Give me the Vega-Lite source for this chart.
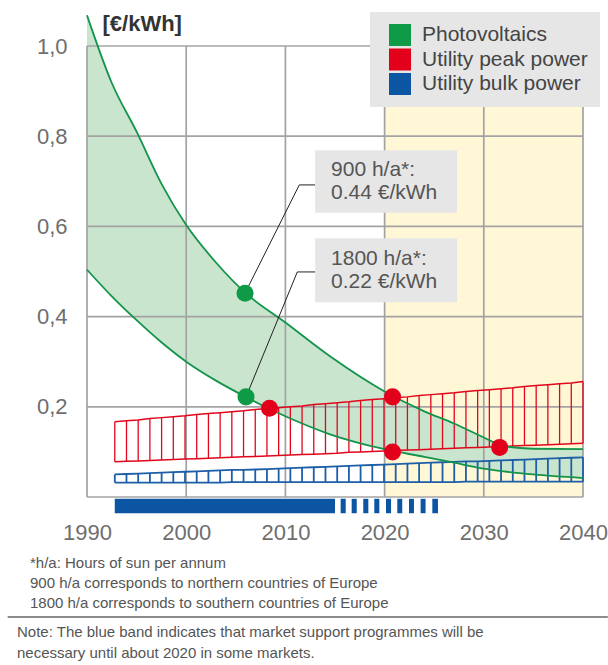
{
  "$schema": "https://vega.github.io/schema/vega-lite/v6.json",
  "autosize": {"type": "none"},
  "width": 496,
  "height": 451,
  "padding": {"left": 87, "top": 46, "right": 25, "bottom": 168},
  "background": "white",
  "config": {"view": {"stroke": null}, "font": "Liberation Sans"},
  "datasets": {
    "pv": [
      {"year": 1990, "upper": 1.068, "lower": 0.504},
      {"year": 1992.5, "upper": 0.918, "lower": 0.445},
      {"year": 1995, "upper": 0.81, "lower": 0.392},
      {"year": 1997.5, "upper": 0.695, "lower": 0.343},
      {"year": 2000, "upper": 0.603, "lower": 0.3},
      {"year": 2003, "upper": 0.52, "lower": 0.258},
      {"year": 2006, "upper": 0.452, "lower": 0.222},
      {"year": 2010, "upper": 0.387, "lower": 0.179},
      {"year": 2014.5, "upper": 0.312, "lower": 0.139},
      {"year": 2020, "upper": 0.234, "lower": 0.106},
      {"year": 2024, "upper": 0.19, "lower": 0.089},
      {"year": 2027, "upper": 0.163, "lower": 0.076},
      {"year": 2030, "upper": 0.132, "lower": 0.063},
      {"year": 2032, "upper": 0.113, "lower": 0.057},
      {"year": 2035, "upper": 0.107, "lower": 0.05},
      {"year": 2040, "upper": 0.106, "lower": 0.042}
    ],
    "hatch": [
      {"x": 1992.8, "rt": 0.167, "rb": 0.078, "bt": 0.05, "bb": 0.032},
      {"x": 1993.98, "rt": 0.169, "rb": 0.079, "bt": 0.051, "bb": 0.032},
      {"x": 1995.16, "rt": 0.171, "rb": 0.08, "bt": 0.052, "bb": 0.032},
      {"x": 1996.34, "rt": 0.174, "rb": 0.081, "bt": 0.053, "bb": 0.032},
      {"x": 1997.52, "rt": 0.176, "rb": 0.082, "bt": 0.054, "bb": 0.032},
      {"x": 1998.7, "rt": 0.178, "rb": 0.083, "bt": 0.055, "bb": 0.032},
      {"x": 1999.88, "rt": 0.18, "rb": 0.084, "bt": 0.056, "bb": 0.032},
      {"x": 2001.06, "rt": 0.183, "rb": 0.085, "bt": 0.057, "bb": 0.032},
      {"x": 2002.24, "rt": 0.185, "rb": 0.086, "bt": 0.058, "bb": 0.032},
      {"x": 2003.42, "rt": 0.187, "rb": 0.087, "bt": 0.059, "bb": 0.032},
      {"x": 2004.6, "rt": 0.189, "rb": 0.088, "bt": 0.06, "bb": 0.033},
      {"x": 2005.78, "rt": 0.191, "rb": 0.089, "bt": 0.06, "bb": 0.033},
      {"x": 2006.96, "rt": 0.194, "rb": 0.09, "bt": 0.061, "bb": 0.033},
      {"x": 2008.14, "rt": 0.196, "rb": 0.091, "bt": 0.062, "bb": 0.033},
      {"x": 2009.32, "rt": 0.198, "rb": 0.092, "bt": 0.063, "bb": 0.033},
      {"x": 2010.5, "rt": 0.2, "rb": 0.093, "bt": 0.064, "bb": 0.033},
      {"x": 2011.68, "rt": 0.202, "rb": 0.094, "bt": 0.065, "bb": 0.033},
      {"x": 2012.86, "rt": 0.205, "rb": 0.095, "bt": 0.066, "bb": 0.033},
      {"x": 2014.04, "rt": 0.207, "rb": 0.096, "bt": 0.067, "bb": 0.033},
      {"x": 2015.22, "rt": 0.209, "rb": 0.097, "bt": 0.068, "bb": 0.033},
      {"x": 2016.4, "rt": 0.211, "rb": 0.099, "bt": 0.069, "bb": 0.033},
      {"x": 2017.58, "rt": 0.214, "rb": 0.1, "bt": 0.07, "bb": 0.033},
      {"x": 2018.76, "rt": 0.216, "rb": 0.101, "bt": 0.071, "bb": 0.033},
      {"x": 2019.94, "rt": 0.218, "rb": 0.102, "bt": 0.072, "bb": 0.033},
      {"x": 2021.12, "rt": 0.22, "rb": 0.103, "bt": 0.073, "bb": 0.033},
      {"x": 2022.3, "rt": 0.222, "rb": 0.104, "bt": 0.074, "bb": 0.033},
      {"x": 2023.48, "rt": 0.225, "rb": 0.105, "bt": 0.075, "bb": 0.033},
      {"x": 2024.66, "rt": 0.227, "rb": 0.106, "bt": 0.076, "bb": 0.033},
      {"x": 2025.84, "rt": 0.229, "rb": 0.107, "bt": 0.077, "bb": 0.033},
      {"x": 2027.02, "rt": 0.231, "rb": 0.108, "bt": 0.078, "bb": 0.033},
      {"x": 2028.2, "rt": 0.234, "rb": 0.109, "bt": 0.079, "bb": 0.034},
      {"x": 2029.38, "rt": 0.236, "rb": 0.11, "bt": 0.079, "bb": 0.034},
      {"x": 2030.56, "rt": 0.238, "rb": 0.111, "bt": 0.08, "bb": 0.034},
      {"x": 2031.74, "rt": 0.24, "rb": 0.112, "bt": 0.081, "bb": 0.034},
      {"x": 2032.92, "rt": 0.242, "rb": 0.113, "bt": 0.082, "bb": 0.034},
      {"x": 2034.1, "rt": 0.245, "rb": 0.114, "bt": 0.083, "bb": 0.034},
      {"x": 2035.28, "rt": 0.247, "rb": 0.115, "bt": 0.084, "bb": 0.034},
      {"x": 2036.46, "rt": 0.249, "rb": 0.116, "bt": 0.085, "bb": 0.034},
      {"x": 2037.64, "rt": 0.251, "rb": 0.117, "bt": 0.086, "bb": 0.034},
      {"x": 2038.82, "rt": 0.253, "rb": 0.118, "bt": 0.087, "bb": 0.034},
      {"x": 2040, "rt": 0.256, "rb": 0.119, "bt": 0.088, "bb": 0.034}
    ]
  },
  "layer": [
    {
      "data": {"values": [{"start": 2020, "end": 2040, "lo": 0, "hi": 1}]},
      "mark": {"type": "rect", "color": "#fff7d6"},
      "encoding": {
        "x": {"field": "start", "type": "quantitative",
          "scale": {"domain": [1990, 2040], "nice": false, "zero": false},
          "axis": {"title": null, "values": [1990, 2000, 2010, 2020, 2030, 2040], "format": "d", "grid": false, "domain": false, "ticks": false, "labelPadding": 25, "labelFontSize": 22, "labelColor": "#6e6e6e", "labelFlush": false}},
        "x2": {"field": "end"},
        "y": {"field": "lo", "type": "quantitative",
          "scale": {"domain": [0, 1], "nice": false},
          "axis": {"title": "[€/kWh]", "titleAngle": 0, "titleX": 15, "titleY": -23, "titleAlign": "left", "titleBaseline": "middle", "titleFontSize": 22, "titleFontWeight": "bold", "titleColor": "#333333",
            "values": [0.2, 0.4, 0.6, 0.8, 1.0], "labelExpr": "replace(format(datum.value, '.1f'), '.', ',')", "grid": false, "domain": false, "ticks": false, "labelPadding": 20, "labelFontSize": 22, "labelColor": "#6e6e6e"}},
        "y2": {"field": "hi"}
      }
    },
    {
      "data": {"name": "pv"},
      "mark": {"type": "area", "color": "#c9e5cd", "interpolate": "monotone"},
      "encoding": {
        "x": {"field": "year", "type": "quantitative"},
        "y": {"field": "upper", "type": "quantitative"},
        "y2": {"field": "lower"}
      }
    },
    {
      "data": {"values": [{"year": 1990}, {"year": 2000}, {"year": 2010}, {"year": 2020}, {"year": 2030}, {"year": 2040}]},
      "mark": {"type": "rule", "color": "#a3a3a3", "strokeWidth": 1.7},
      "encoding": {
        "x": {"field": "year", "type": "quantitative"},
        "y": {"datum": 0},
        "y2": {"datum": 1}
      }
    },
    {
      "data": {"values": [{"v": 0}, {"v": 0.2}, {"v": 0.4}, {"v": 0.6}, {"v": 0.8}, {"v": 1.0}]},
      "mark": {"type": "rule", "color": "#a3a3a3", "strokeWidth": 1.7},
      "encoding": {
        "x": {"datum": 1990},
        "x2": {"datum": 2040},
        "y": {"field": "v", "type": "quantitative"}
      }
    },
    {
      "data": {"name": "hatch"},
      "mark": {"type": "rule", "color": "#1d5ea8", "strokeWidth": 1.8},
      "encoding": {
        "x": {"field": "x", "type": "quantitative"},
        "y": {"field": "bt", "type": "quantitative"},
        "y2": {"field": "bb"}
      }
    },
    {
      "data": {"name": "hatch"},
      "mark": {"type": "line", "color": "#1d5ea8", "strokeWidth": 1.8},
      "encoding": {
        "x": {"field": "x", "type": "quantitative"},
        "y": {"field": "bt", "type": "quantitative"}
      }
    },
    {
      "data": {"name": "hatch"},
      "mark": {"type": "line", "color": "#1d5ea8", "strokeWidth": 1.8},
      "encoding": {
        "x": {"field": "x", "type": "quantitative"},
        "y": {"field": "bb", "type": "quantitative"}
      }
    },
    {
      "data": {"name": "hatch"},
      "mark": {"type": "rule", "color": "#e2061c", "strokeWidth": 1.3},
      "encoding": {
        "x": {"field": "x", "type": "quantitative"},
        "y": {"field": "rt", "type": "quantitative"},
        "y2": {"field": "rb"}
      }
    },
    {
      "data": {"name": "hatch"},
      "mark": {"type": "line", "color": "#e2061c", "strokeWidth": 1.5},
      "encoding": {
        "x": {"field": "x", "type": "quantitative"},
        "y": {"field": "rt", "type": "quantitative"}
      }
    },
    {
      "data": {"name": "hatch"},
      "mark": {"type": "line", "color": "#e2061c", "strokeWidth": 1.5},
      "encoding": {
        "x": {"field": "x", "type": "quantitative"},
        "y": {"field": "rb", "type": "quantitative"}
      }
    },
    {
      "data": {"name": "pv"},
      "mark": {"type": "line", "color": "#14944a", "strokeWidth": 1.8, "interpolate": "monotone"},
      "encoding": {
        "x": {"field": "year", "type": "quantitative"},
        "y": {"field": "upper", "type": "quantitative"}
      }
    },
    {
      "data": {"name": "pv"},
      "mark": {"type": "line", "color": "#14944a", "strokeWidth": 1.8, "interpolate": "monotone"},
      "encoding": {
        "x": {"field": "year", "type": "quantitative"},
        "y": {"field": "lower", "type": "quantitative"}
      }
    },
    {
      "data": {"values": [
        {"s": 1992.8, "e": 2015.0},
        {"s": 2015.57, "e": 2016.08},
        {"s": 2016.68, "e": 2017.19},
        {"s": 2017.85, "e": 2018.36},
        {"s": 2018.96, "e": 2019.47},
        {"s": 2020.14, "e": 2020.65},
        {"s": 2021.28, "e": 2021.78},
        {"s": 2022.46, "e": 2022.96},
        {"s": 2023.63, "e": 2024.13},
        {"s": 2024.81, "e": 2025.38}
      ]},
      "mark": {"type": "rect", "color": "#0b55a3"},
      "encoding": {
        "x": {"field": "s", "type": "quantitative"},
        "x2": {"field": "e"},
        "y": {"datum": -0.004},
        "y2": {"datum": -0.036}
      }
    },
    {
      "data": {"values": [
        {"id": "a", "o": 1, "year": 2013.0, "v": 0.692},
        {"id": "a", "o": 2, "year": 2011.4, "v": 0.692},
        {"id": "a", "o": 3, "year": 2005.93, "v": 0.452},
        {"id": "b", "o": 1, "year": 2013.0, "v": 0.499},
        {"id": "b", "o": 2, "year": 2011.2, "v": 0.499},
        {"id": "b", "o": 3, "year": 2006.03, "v": 0.222}
      ]},
      "mark": {"type": "line", "color": "#222222", "strokeWidth": 1},
      "encoding": {
        "x": {"field": "year", "type": "quantitative"},
        "y": {"field": "v", "type": "quantitative"},
        "detail": {"field": "id"},
        "order": {"field": "o"}
      }
    },
    {
      "data": {"values": [
        {"x1": 2013.0, "x2": 2027.3, "y1": 0.63, "y2": 0.769},
        {"x1": 2013.0, "x2": 2027.3, "y1": 0.432, "y2": 0.574}
      ]},
      "mark": {"type": "rect", "color": "#e6e6e6"},
      "encoding": {
        "x": {"field": "x1", "type": "quantitative"},
        "x2": {"field": "x2"},
        "y": {"field": "y1", "type": "quantitative"},
        "y2": {"field": "y2"}
      }
    },
    {
      "data": {"values": [
        {"year": 2014.6, "v": 0.725, "t": "900 h/a*:"},
        {"year": 2014.6, "v": 0.674, "t": "0.44 €/kWh"},
        {"year": 2014.6, "v": 0.528, "t": "1800 h/a*:"},
        {"year": 2014.6, "v": 0.477, "t": "0.22 €/kWh"}
      ]},
      "mark": {"type": "text", "align": "left", "baseline": "middle", "fontSize": 21, "color": "#555555"},
      "encoding": {
        "x": {"field": "year", "type": "quantitative"},
        "y": {"field": "v", "type": "quantitative"},
        "text": {"field": "t"}
      }
    },
    {
      "data": {"values": [
        {"series": "Photovoltaics", "year": 2005.93, "v": 0.452},
        {"series": "Photovoltaics", "year": 2006.03, "v": 0.222},
        {"series": "Utility peak power", "year": 2008.4, "v": 0.197},
        {"series": "Utility peak power", "year": 2020.8, "v": 0.222},
        {"series": "Utility peak power", "year": 2020.8, "v": 0.1},
        {"series": "Utility peak power", "year": 2031.6, "v": 0.11}
      ]},
      "mark": {"type": "point", "filled": true, "shape": "circle", "size": 290, "opacity": 1},
      "encoding": {
        "x": {"field": "year", "type": "quantitative"},
        "y": {"field": "v", "type": "quantitative"},
        "color": {"field": "series", "type": "nominal",
          "scale": {"domain": ["Photovoltaics", "Utility peak power", "Utility bulk power"], "range": ["#0f9a48", "#e2001a", "#0b55a3"]},
          "legend": {"orient": "none", "legendX": 283, "legendY": -34, "title": null, "symbolType": "square", "symbolSize": 484, "fillColor": "#e6e6e6", "padding": 12, "symbolOffset": 7, "labelOffset": 11, "labelFontSize": 21, "labelColor": "#444444", "labelLimit": 300, "rowPadding": 2.5, "symbolStrokeWidth": 0, "symbolOpacity": 1}}
      }
    },
    {
      "data": {"values": [
        {"year": 1984.25, "v": -0.146, "t": "*h/a: Hours of sun per annum"},
        {"year": 1984.25, "v": -0.191, "t": "900 h/a corresponds to northern countries of Europe"},
        {"year": 1984.25, "v": -0.235, "t": "1800 h/a corresponds to southern countries of Europe"}
      ]},
      "mark": {"type": "text", "align": "left", "baseline": "middle", "fontSize": 15, "color": "#555555"},
      "encoding": {
        "x": {"field": "year", "type": "quantitative"},
        "y": {"field": "v", "type": "quantitative"},
        "text": {"field": "t"}
      }
    },
    {
      "data": {"values": [
        {"year": 1982.94, "v": -0.299, "t": "Note: The blue band indicates that market support programmes will be"},
        {"year": 1982.94, "v": -0.346, "t": "necessary until about 2020 in some markets."}
      ]},
      "mark": {"type": "text", "align": "left", "baseline": "middle", "fontSize": 15, "color": "#555555"},
      "encoding": {
        "x": {"field": "year", "type": "quantitative"},
        "y": {"field": "v", "type": "quantitative"},
        "text": {"field": "t"}
      }
    },
    {
      "data": {"values": [{"from": 1982.0, "to": 2042.5, "v": -0.266}]},
      "mark": {"type": "rule", "color": "#8c8c8c", "strokeWidth": 2},
      "encoding": {
        "x": {"field": "from", "type": "quantitative"},
        "x2": {"field": "to"},
        "y": {"field": "v", "type": "quantitative"}
      }
    }
  ]
}
